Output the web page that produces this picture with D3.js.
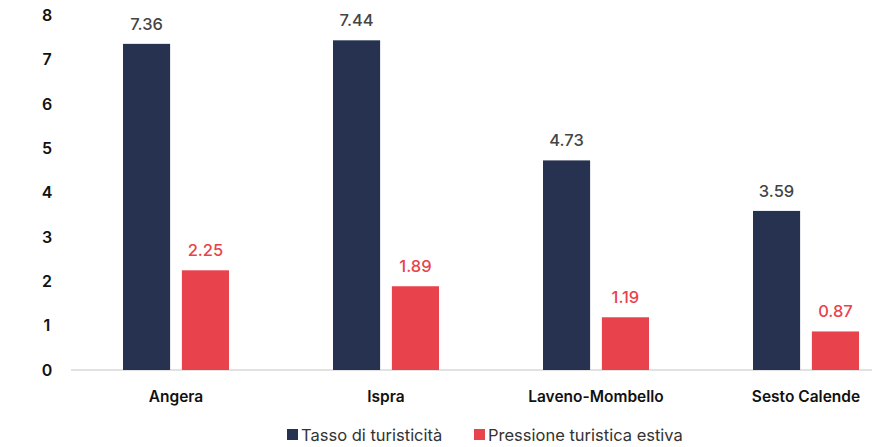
<!DOCTYPE html>
<html><head><meta charset="utf-8">
<script src="https://cdn.jsdelivr.net/npm/d3@7"></script>
<style>body{margin:0;background:#fff;font-family:Inter,"Open Sans",sans-serif;}</style>
</head><body><svg id="c" width="872" height="447"></svg>
<script>
const categories = ["Angera","Ispra","Laveno-Mombello","Sesto Calende"];
const seriesNames = ["Tasso di turisticità","Pressione turistica estiva"];
const tasso = [7.36,7.44,4.73,3.59];
const pressione = [2.25,1.89,1.19,0.87];
const yTicks = [0,1,2,3,4,5,6,7,8];
const colors = ["#273250","#e8424c"];
const labelColors = ["#444444","#e8424c"];

const svg = d3.select("#c");
const x = d3.scaleBand().domain(categories).range([71,911]).paddingInner(0).paddingOuter(0);
const x1 = d3.scaleBand().domain([0,1]).range([52,158]).paddingInner(0.2).paddingOuter(0);
const y = d3.scaleLinear().domain([0,8]).range([370,15.5]);

svg.append("line").attr("x1",71).attr("x2",872).attr("y1",y(0)).attr("y2",y(0)).attr("stroke","#d9d9d9").attr("stroke-width",1.5);

svg.selectAll(".yt").data(yTicks).enter().append("text")
 .attr("x",47).attr("y",d=>y(d)).attr("dy","0.35em").attr("text-anchor","middle")
 .attr("font-size",16).attr("font-weight",600).attr("fill","#111").text(d=>d);

const data = categories.map((c,i)=>({c, v:[tasso[i],pressione[i]]}));
const g = svg.selectAll(".grp").data(data).enter().append("g").attr("transform",d=>`translate(${x(d.c)},0)`);
g.selectAll("rect").data(d=>d.v.map((v,k)=>({v,k}))).enter().append("rect")
 .attr("x",d=>x1(d.k)).attr("width",x1.bandwidth()).attr("y",d=>y(d.v)).attr("height",d=>y(0)-y(d.v)).attr("fill",d=>colors[d.k]);
g.selectAll(".vl").data(d=>d.v.map((v,k)=>({v,k}))).enter().append("text")
 .attr("x",d=>x1(d.k)+x1.bandwidth()/2).attr("y",d=>y(d.v)-14).attr("text-anchor","middle")
 .attr("font-size",16.5).attr("font-weight",500).attr("fill",d=>labelColors[d.k]).text(d=>d.v.toFixed(2));

svg.selectAll(".cl").data(categories).enter().append("text")
 .attr("x",d=>x(d)+x.bandwidth()/2).attr("y",402).attr("text-anchor","middle")
 .attr("font-size",15.5).attr("font-weight",600).attr("fill","#111").text(d=>d);

const leg = [{n:seriesNames[0],c:colors[0],x:287},{n:seriesNames[1],c:colors[1],x:474}];
const lg = svg.selectAll(".lg").data(leg).enter().append("g").attr("transform",d=>`translate(${d.x},0)`);
lg.append("rect").attr("x",0).attr("y",429).attr("width",11).attr("height",11).attr("fill",d=>d.c);
lg.append("text").attr("x",14).attr("y",440.5).attr("font-size",16.5).attr("fill","#333").text(d=>d.n);
</script></body></html>
